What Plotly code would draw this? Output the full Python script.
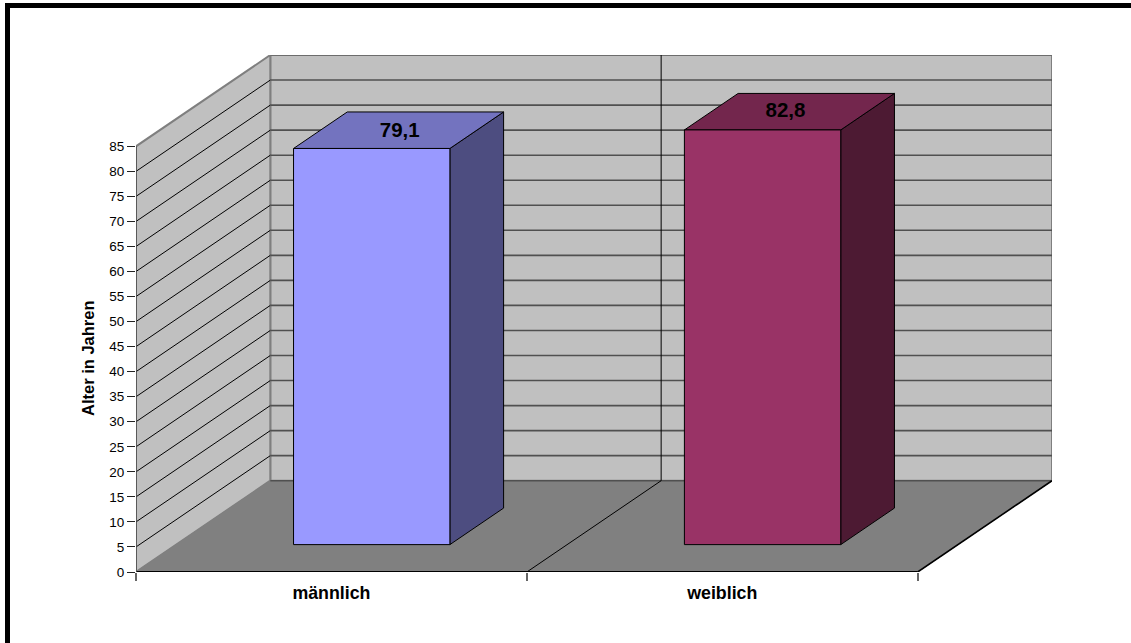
import plotly.graph_objects as go

# Chart content
categories = ["männlich", "weiblich"]
values = [79.1, 82.8]
tick_values = list(range(0, 90, 5))
axis_title = "Alter in Jahren"

# Face colours: front, top, side
bar_colors = [("#9999FF", "#7373BF", "#4D4D80"), ("#993366", "#73264D", "#4D1A33")]
WALL = "#C0C0C0"
FLOOR = "#808080"
EDGE = "#7F7F7F"

# Oblique projection: one full step of depth shifts a point by this much in data units
DEPTH_X = 0.3436
DEPTH_Y = 18.23
Y_MAX = 85
N = len(categories)
BAR_LOW, BAR_HIGH = 0.3, 0.7  # share of category width and depth left free by the gaps

# Small offsets that seat each value label on its column's top face (category units, value units)
label_nudge = [(0.003, -0.4), (-0.01, -0.1)]

# Sheet size and plot margins in pixels
WIDTH, HEIGHT = 1131, 643
M_L, M_R, M_T, M_B = 136, 79, 55, 71
PLOT_W, PLOT_H = WIDTH - M_L - M_R, HEIGHT - M_T - M_B


def paper_x(px):
    return (px - M_L) / PLOT_W


def paper_y(px):
    return (HEIGHT - M_B - px) / PLOT_H


def project(cat, val, depth):
    return cat + DEPTH_X * depth, val + DEPTH_Y * depth


def polygon(corners, fill, line_color, line_width=1):
    pts = [project(*c) for c in corners]
    pts.append(pts[0])
    return go.Scatter(
        x=[p[0] for p in pts], y=[p[1] for p in pts], mode="lines", fill="toself",
        fillcolor=fill, line=dict(color=line_color, width=line_width),
        hoverinfo="skip", showlegend=False,
    )


def segment(a, b, color, width=1):
    pa, pb = project(*a), project(*b)
    return go.Scatter(
        x=[pa[0], pb[0]], y=[pa[1], pb[1]], mode="lines",
        line=dict(color=color, width=width), hoverinfo="skip", showlegend=False,
    )


fig = go.Figure()

# Walls and floor
fig.add_trace(polygon([(0, 0, 1), (N, 0, 1), (N, Y_MAX, 1), (0, Y_MAX, 1)], WALL, EDGE, 2))
fig.add_trace(polygon([(0, 0, 0), (0, 0, 1), (0, Y_MAX, 1), (0, Y_MAX, 0)], WALL, EDGE, 2))
fig.add_trace(polygon([(0, 0, 0), (N, 0, 0), (N, 0, 1), (0, 0, 1)], FLOOR, FLOOR, 1))

# Gridlines running along the side wall and the back wall
for v in tick_values[1:-1]:
    fig.add_trace(segment((0, v, 0), (0, v, 1), "#000000", 1))
    fig.add_trace(segment((0, v, 1), (N, v, 1), "#505050", 1.6))
fig.add_trace(segment((0, Y_MAX, 1), (N, Y_MAX, 1), "#666666", 1.6))
fig.add_trace(segment((0, 0, 1), (N, 0, 1), "#505050", 1.6))

# Category separators on the floor and the back wall
for c in range(1, N):
    fig.add_trace(segment((c, 0, 0), (c, 0, 1), "#000000", 1))
    fig.add_trace(segment((c, 0, 1), (c, Y_MAX, 1), "#000000", 1))

# Front and right edges of the floor, front axis lines
fig.add_trace(segment((0, 0, 0), (N, 0, 0), "#000000", 2))
fig.add_trace(segment((N, 0, 0), (N, 0, 1), "#000000", 1.6))
fig.add_trace(segment((0, 0, 0), (0, Y_MAX, 0), "#505050", 1.6))

# Columns
for i, (value, (front, top, side)) in enumerate(zip(values, bar_colors)):
    x0, x1 = i + BAR_LOW, i + BAR_HIGH
    d0, d1 = BAR_LOW, BAR_HIGH
    fig.add_trace(polygon([(x1, 0, d0), (x1, 0, d1), (x1, value, d1), (x1, value, d0)], side, "#000000"))
    fig.add_trace(polygon([(x0, value, d0), (x1, value, d0), (x1, value, d1), (x0, value, d1)], top, "#000000"))
    fig.add_trace(polygon([(x0, 0, d0), (x1, 0, d0), (x1, value, d0), (x0, value, d0)], front, "#000000"))
    lx, ly = project(i + 0.5, value, 0.5)
    nudge_x, nudge_y = label_nudge[i]
    fig.add_trace(go.Scatter(
        x=[lx + nudge_x], y=[ly + nudge_y], mode="text", text=[f"{value:.1f}".replace(".", ",")],
        textposition="middle center", cliponaxis=False, showlegend=False, hoverinfo="skip",
        textfont=dict(family="Liberation Sans", size=20.5, color="#000000", weight="bold"),
    ))

fig.update_layout(
    width=WIDTH, height=HEIGHT, autosize=False,
    margin=dict(l=M_L, r=M_R, t=M_T, b=M_B),
    paper_bgcolor="#FFFFFF", plot_bgcolor="#FFFFFF",
    showlegend=False,
    font=dict(family="Liberation Sans", color="#000000"),
    xaxis=dict(
        range=[0, N + DEPTH_X], showgrid=False, zeroline=False, showline=False,
        tickmode="array", tickvals=[i + 0.5 for i in range(N)], ticktext=categories,
        ticks="outside", ticklen=5, tickcolor="rgba(0,0,0,0)",
        tickfont=dict(size=17.8, family="Liberation Sans", weight="bold"),
        minor=dict(tickmode="array", tickvals=list(range(N + 1)), ticks="outside",
                   ticklen=8, tickcolor="#666666", tickwidth=1.5, showgrid=False),
    ),
    yaxis=dict(
        range=[0, PLOT_H / 5.008], showgrid=False, zeroline=False, showline=False,
        tickmode="array", tickvals=tick_values, ticktext=[str(v) for v in tick_values],
        ticks="outside", ticklen=8, tickcolor="#222222", tickwidth=1,
        tickfont=dict(size=13.5, family="Liberation Sans"),
    ),
    annotations=[dict(
        text=f"<b>{axis_title}</b>", textangle=-90, showarrow=False,
        xref="paper", yref="paper", x=paper_x(88), y=paper_y(358), xanchor="center", yanchor="middle",
        font=dict(size=16.5, family="Liberation Sans", color="#000000"),
    )],
    # Black frame along the top and left of the sheet
    shapes=[
        dict(type="rect", xref="paper", yref="paper", layer="above", line_width=0, fillcolor="#000000",
             x0=paper_x(5), x1=paper_x(WIDTH), y0=paper_y(8), y1=paper_y(3)),
        dict(type="rect", xref="paper", yref="paper", layer="above", line_width=0, fillcolor="#000000",
             x0=paper_x(5), x1=paper_x(10), y0=paper_y(HEIGHT), y1=paper_y(3)),
    ],
)

fig.write_html("out.html")
